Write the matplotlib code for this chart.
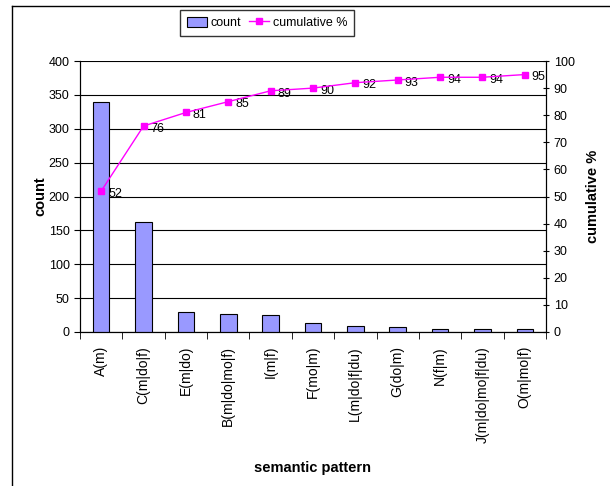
import matplotlib
matplotlib.use("Agg")
import matplotlib.pyplot as plt
import numpy as np

plt.rcParams["font.family"] = ["Liberation Sans", "DejaVu Sans"]

patterns = ["A(m)", "C(m|do|f)", "E(m|do)", "B(m|do|mo|f)", "I(m|f)", "F(mo|m)",
            "L(m|do|f|du)", "G(do|m)", "N(f|m)", "J(m|do|mo|f|du)", "O(m|mo|f)"]
counts = [340, 163, 30, 26, 25, 13, 9, 7, 5, 5, 5]
cumulative = [52, 76, 81, 85, 89, 90, 92, 93, 94, 94, 95]

fig = plt.figure(figsize=(6.1, 4.86), dpi=100)
ax = fig.add_axes([80 / 610, 1 - 332 / 486, 466 / 610, 271 / 486])
x = np.arange(len(patterns))

bars = ax.bar(x, counts, width=0.39, color="#9999FF", edgecolor="black",
              linewidth=0.8, label="count", zorder=3)
ax.set_xlim(-0.5, len(patterns) - 0.5)
ax.set_ylim(0, 400)
ax.set_yticks(range(0, 401, 50))
ax.yaxis.grid(True, color="black", linewidth=0.8)
ax.set_axisbelow(True)
ax.set_xticks(x)
ax.set_xticklabels(patterns, rotation=90, fontsize=10)
ax.set_xticks(np.arange(-0.5, len(patterns)), minor=True)
ax.tick_params(axis="x", which="major", length=0, pad=10)
ax.tick_params(axis="x", which="minor", length=5, direction="out")
ax.tick_params(axis="y", labelsize=9, length=4, direction="out")
ax.spines["top"].set_visible(False)
ax.set_ylabel("count", fontsize=10.5, fontweight="bold", labelpad=1)
ax.set_xlabel("semantic pattern", fontsize=10.5, fontweight="bold", labelpad=13)

ax2 = ax.twinx()
line, = ax2.plot(x, cumulative, color="#FF00FF", marker="s", markersize=4.5,
                 linewidth=1, label="cumulative %", zorder=4)
ax2.set_ylim(0, 100)
ax2.set_yticks(range(0, 101, 10))
ax2.tick_params(axis="y", labelsize=9, length=4, direction="inout")
ax2.spines["top"].set_visible(False)
ax2.set_ylabel("cumulative %", fontsize=10.5, fontweight="bold", labelpad=8)
for xi, c in zip(x, cumulative):
    ax2.annotate(str(c), (xi, c), xytext=(5, -2), textcoords="offset points",
                 ha="left", va="center", fontsize=9)

fig.legend(handles=[bars, line], labels=["count", "cumulative %"], ncol=2,
           loc="center", bbox_to_anchor=(267 / 610, 1 - 23 / 486), fontsize=9,
           frameon=True, fancybox=False, edgecolor="black", handlelength=1.6,
           handleheight=0.9, columnspacing=0.6, handletextpad=0.3, borderpad=0.55,
           borderaxespad=0)

# outer chart border (left and top edges visible)
fig.add_artist(plt.Line2D([12 / 610, 12 / 610], [0, 1 - 6 / 486], color="black",
                          linewidth=1, transform=fig.transFigure))
fig.add_artist(plt.Line2D([12 / 610, 1], [1 - 6 / 486, 1 - 6 / 486], color="black",
                          linewidth=1, transform=fig.transFigure))

fig.savefig("out.png", dpi=100)
